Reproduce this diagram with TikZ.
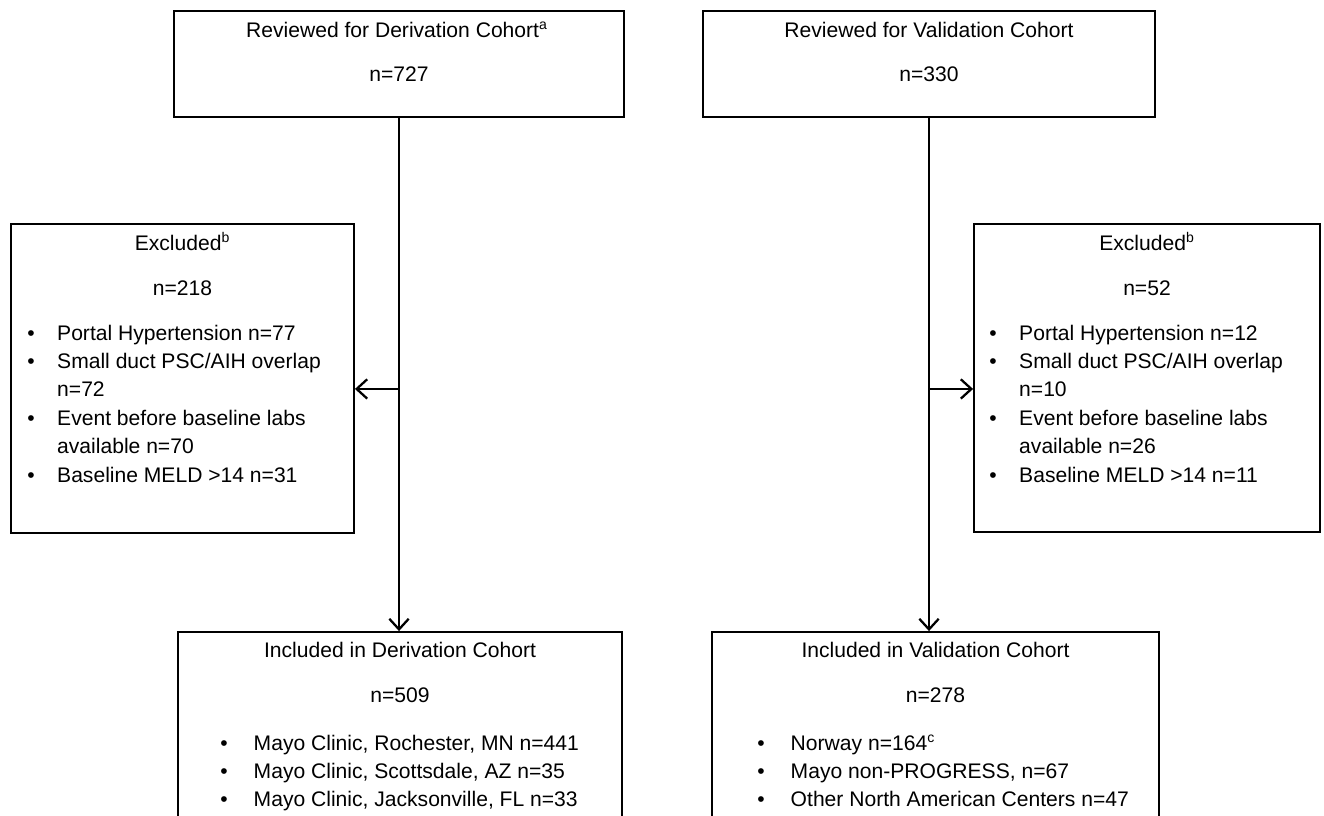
\documentclass[tikz,border=0pt]{standalone}
\usepackage{fontspec}
\setmainfont{Liberation Sans}
\usetikzlibrary{arrows.meta}

\tikzset{
  box/.style={draw, line width=1.1pt, inner sep=0pt},
  txt/.style={anchor=base, inner sep=0pt, font=\fontsize{12}{16.2}\selectfont},
  lst/.style={anchor=base west, inner sep=0pt, font=\fontsize{12}{16.2}\selectfont},
  arr/.style={line width=1.2pt, -{Straight Barb[length=6pt,width=11pt,line width=1.3pt]}}
}
\newcommand{\blt}{\textbullet}

\begin{document}
\begin{tikzpicture}[x=0.02cm, y=-0.02cm]
\useasboundingbox (0,0) rectangle (1324,815);
\clip (0,0) rectangle (1324,815);

% boxes
\node[box, minimum width=9.02cm, minimum height=2.12cm] (revD) at (399,64) {};
\node[box, minimum width=9.04cm, minimum height=2.12cm] (revV) at (929,64) {};
\node[box, minimum width=6.86cm, minimum height=6.18cm] (excD) at (182.5,378.5) {};
\node[box, minimum width=6.92cm, minimum height=6.16cm] (excV) at (1147,378) {};
\node[box, minimum width=8.88cm, minimum height=4.56cm] (incD) at (400,746) {};
\node[box, minimum width=8.94cm, minimum height=4.56cm] (incV) at (935.5,746) {};

% reviewed
\node[txt] (revDt) at (397,37) {Reviewed for Derivation Cohort\textsuperscript{a}};
\node[txt] (revDn) at (399,81) {n=727};
\node[txt] (revVt) at (929,37) {Reviewed for Validation Cohort};
\node[txt] (revVn) at (929,81) {n=330};

% excluded
\node[txt] (excDt) at (182.5,250) {Excluded\textsuperscript{b}};
\node[txt] (excDn) at (182.5,295) {n=218};
\node[lst] (excDl) at (27,340) {\begin{tabular}[t]{@{}p{17pt}@{}l@{}}
\blt & Portal Hypertension n=77\\
\blt & Small duct PSC/AIH overlap\\
     & n=72\\
\blt & Event before baseline labs\\
     & available n=70\\
\blt & Baseline MELD >14 n=31
\end{tabular}};

\node[txt] (excVt) at (1147,250) {Excluded\textsuperscript{b}};
\node[txt] (excVn) at (1147,295) {n=52};
\node[lst] (excVl) at (989,340) {\begin{tabular}[t]{@{}p{17pt}@{}l@{}}
\blt & Portal Hypertension n=12\\
\blt & Small duct PSC/AIH overlap\\
     & n=10\\
\blt & Event before baseline labs\\
     & available n=26\\
\blt & Baseline MELD >14 n=11
\end{tabular}};

% included
\node[txt] (incDt) at (400,657) {Included in Derivation Cohort};
\node[txt] (incDn) at (400,702) {n=509};
\node[lst] (incDl) at (220,750) {\begin{tabular}[t]{@{}p{19pt}@{}l@{}}
\blt & Mayo Clinic, Rochester, MN n=441\\
\blt & Mayo Clinic, Scottsdale, AZ n=35\\
\blt & Mayo Clinic, Jacksonville, FL n=33
\end{tabular}};

\node[txt] (incVt) at (935.5,657) {Included in Validation Cohort};
\node[txt] (incVn) at (935.5,702) {n=278};
\node[lst] (incVl) at (757,750) {\begin{tabular}[t]{@{}p{19pt}@{}l@{}}
\blt & Norway n=164\textsuperscript{c}\\
\blt & Mayo non-PROGRESS, n=67\\
\blt & Other North American Centers n=47
\end{tabular}};

% arrows
\path (revD.south) ++(0,271) coordinate (tapD);
\path (revV.south) ++(0,271) coordinate (tapV);
\draw[arr] (revD.south) -- (revD.south |- incD.north);
\draw[arr] (tapD) -- (tapD -| excD.east);
\draw[arr] (revV.south) -- (revV.south |- incV.north);
\draw[arr] (tapV) -- (tapV -| excV.west);

\end{tikzpicture}
\end{document}
